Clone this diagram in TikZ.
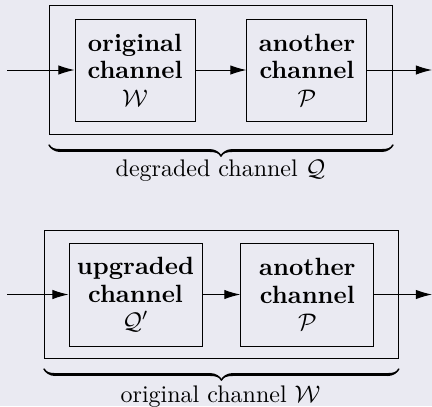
\documentclass[tikz,border=0pt]{standalone}
\usepackage{xcolor}
\definecolor{bgcol}{RGB}{234,234,242}
\usetikzlibrary{arrows.meta, positioning, fit, decorations.pathreplacing, calligraphy}

\begin{document}
\begin{tikzpicture}[
    x=0.41667pt, y=-0.41667pt,
    chan/.style={rectangle, draw, minimum width=50pt, minimum height=42.5pt, align=center, inner sep=2pt, font=\fontsize{10.4pt}{11.4pt}\selectfont\bfseries},
    frame/.style={rectangle, draw, inner xsep=10.4pt, inner ysep=5.4pt},
    arrow/.style={-{Latex[length=6.7pt, width=3.9pt]}},
    brace/.style={decorate, decoration={calligraphic brace, amplitude=4.6pt}, line width=1.25pt}
]
\fill[bgcol] (0,0) rectangle (432,406);
\useasboundingbox (0,0) rectangle (432,406);

% degraded channel
\node[chan] (orig) at (135,70) {original\\channel\\$\mathcal{W}$};
\node[chan, right=21.25pt of orig] (another) {another\\channel\\$\mathcal{P}$};
\node[frame, fit=(orig) (another)] (degraded) {};
\coordinate (in1) at (7,70);
\coordinate (out1) at (432,70);
\draw[arrow] (in1) -- (orig);
\draw[arrow] (orig) -- (another);
\draw[arrow] (another) -- (out1);
\draw[brace] ([yshift=-4.2pt]degraded.south east) -- ([yshift=-4.2pt]degraded.south west);
\node[anchor=base] (degradedname) at (220.5,176) {degraded channel $\mathcal{Q}$};

% upgraded channel
\node[chan, minimum width=55.4pt, minimum height=42.9pt] (upg) at (135.5,294.5) {upgraded\\channel\\$\mathcal{Q}'$};
\node[chan, minimum width=55.4pt, minimum height=42.9pt, right=15.8pt of upg] (another2) {another\\channel\\$\mathcal{P}$};
\node[frame, inner xsep=10pt, inner ysep=5pt, fit=(upg) (another2)] (original) {};
\coordinate (in2) at (7,294.5);
\coordinate (out2) at (432,294.5);
\draw[arrow] (in2) -- (upg);
\draw[arrow] (upg) -- (another2);
\draw[arrow] (another2) -- (out2);
\draw[brace] ([yshift=-4.2pt]original.south east) -- ([yshift=-4.2pt]original.south west);
\node[anchor=base] (originalname) at (220.5,402) {original channel $\mathcal{W}$};
\end{tikzpicture}
\end{document}
